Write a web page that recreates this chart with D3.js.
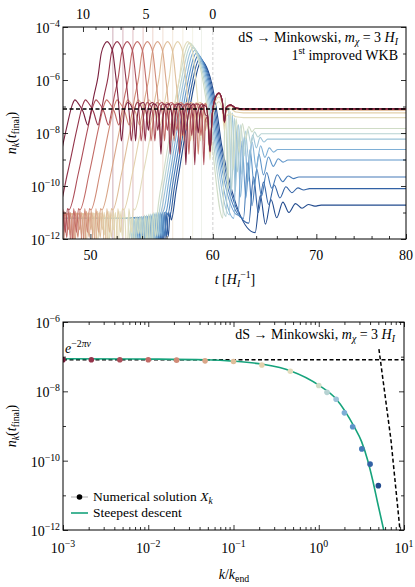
<!DOCTYPE html>
<html>
<head>
<meta charset="utf-8">
<script src="https://cdn.jsdelivr.net/npm/d3@7"></script>
<style>
body { margin: 0; background: #fff; }
text { font-family: "Liberation Serif", "DejaVu Serif", serif; fill: #000; }
</style>
</head>
<body>
<svg id="chart" width="415" height="587"></svg>
<script>
// ---------------- data ----------------
const kVals = [0.001, 0.00215, 0.00464, 0.01, 0.0215, 0.0464, 0.1, 0.215, 0.464,
               1, 1.25, 1.6, 2, 2.5, 3.2, 4, 5];
// log10 of n_k(t_final)
const nFinalLog = [-7.09, -7.09, -7.09, -7.09, -7.10, -7.12, -7.14, -7.24, -7.42,
                   -7.83, -8.03, -8.23, -8.62, -9.02, -9.66, -10.10, -10.72];
const curveColors = ["#7a1f3d", "#93334a", "#ad4d58", "#c26a66", "#d08a76", "#d9a688",
                     "#dfbe9a", "#e3d1ac", "#e2dcbc", "#cfdcc6", "#b6d2d2", "#9cc3d9",
                     "#7eafd6", "#5f95c9", "#467bb8", "#3262a5", "#224b8e"];
// time and height of the main peak of every curve
const peakT = [51.26, 52.03, 52.82, 53.62, 54.43, 55.26, 56.09, 56.94, 57.80,
               57.95, 58.1, 58.25, 58.4, 58.55, 58.7, 58.85, 59.0];
const peakLog = [-4.55, -4.55, -4.55, -4.55, -4.55, -4.55, -4.55, -4.55, -4.55,
                 -4.6, -4.68, -4.78, -4.88, -4.98, -5.08, -5.18, -5.28];
const floorLog = [-11.05, -11.05, -11.05, -11.05, -11.05, -11.05, -11.05, -11.05, -11.05,
                  -11.2, -11.2, -11.2, -11.2, -11.2, -11.2, -11.2, -11.2];
// noisy floor just before the rise: [dt before rise, offset]
const floorSpikes = [[-2.4, 0], [-2.25, -0.8], [-2.1, 0], [-1.9, -1.2], [-1.75, 0.05],
                     [-1.55, -0.6], [-1.4, 0.05], [-1.2, -1.5], [-1.05, 0.1], [-0.85, -0.9],
                     [-0.7, 0.15], [-0.5, -1.8], [-0.35, 0.2], [-0.15, -0.7], [0, 0.2]];
// rise and main peak of the small-k curves: [dt from peak, log10 n]
const redRise = [[-4.4, -10.9], [-3.7, -9.5], [-3.0, -7.8], [-2.6, -6.95], [-2.4, -6.75],
                 [-2.2, -6.85], [-1.8, -7.2], [-1.45, -7.7], [-1.3, -7.4], [-1.0, -6.6],
                 [-0.7, -5.9], [-0.45, -5.0], [-0.2, -4.65], [0, -4.55]];
// fall after the peak for the small-k curves: [dt from peak, log10 n]
const redFall = [[0.2, -4.65], [0.45, -5.0], [0.65, -5.8], [0.85, -6.7], [1.0, -7.6], [1.1, -8.3]];
const redWiggle = [[1.35, -7.15], [1.6, -6.85], [1.85, -6.95], [2.1, -7.5], [2.22, -8.3], [2.35, -7.4],
                   [2.6, -6.9], [2.85, -6.85], [3.1, -7.3], [3.25, -7.9], [3.4, -7.3], [3.65, -6.9],
                   [3.9, -6.95], [4.15, -7.6], [4.28, -8.8], [4.42, -7.5], [4.7, -6.95], [4.95, -6.9],
                   [5.2, -7.4], [5.33, -8.1], [5.47, -7.35], [5.75, -6.9], [6.0, -6.95], [6.25, -7.6],
                   [6.38, -9.2], [6.52, -7.5], [6.8, -7.0], [7.05, -6.9], [7.3, -7.3], [7.45, -8.0],
                   [7.6, -7.3], [7.9, -6.95], [8.15, -7.0], [8.4, -7.7]];
// settling at the end of inflation: [t, offset from final value]
const redSettle = [[59.55, -0.3], [59.75, -1.6], [59.95, -0.2], [60.25, 0.45], [60.55, 0.6],
                   [60.85, 0.3], [61.05, -0.5], [61.2, 0.05], [61.6, 0.15], [62.1, 0.03],
                   [62.8, 0], [80, 0]];
// rise of the large-k curves: [dt from peak, offset from peak]
const blueRise = [[-2.6, -6.0], [-2.2, -4.9], [-1.8, -3.8], [-1.4, -2.7], [-1.0, -1.7],
                  [-0.6, -0.8], [-0.3, -0.25], [0, 0]];
// fall after the peak for the large-k curves: [dt from peak, offset from peak]
const blueFall = [[0.3, -0.12], [0.6, -0.4], [0.9, -0.85], [1.2, -1.5], [1.5, -2.3], [1.8, -3.2]];
// ringing around the final value: [dt from first dip, offset in units of amplitude]
const blueRing = [[0, -1.3], [0.45, 0.45], [0.9, -0.9], [1.4, 0.25], [1.9, -0.6], [2.45, 0.14],
                  [3.0, -0.35], [3.6, 0.07], [4.2, -0.15], [4.8, 0.03], [5.4, -0.05], [6.0, 0]];
const blueFirstDip = [60.9, 61.2, 61.5, 61.9, 62.3, 62.8, 63.3, 63.9];
const blueRingScale = [0.5, 0.55, 0.6, 0.7, 0.8, 0.9, 1.0, 1.1];
const blueRingAmp = [2.6, 2.4, 2.2, 2.0, 1.6, 1.2, 1.0, 0.8];
// faint vertical markers
const markT = [51.7, 52.48, 53.27, 54.08, 54.87, 55.7, 56.52, 57.38, 58.22, 59.0];
const tEnd = 60;
// e-folds axis on top: [N, t]
const nTicks = [[0, 60], [1, 58.8], [2, 57.65], [3, 56.5], [4, 55.4], [5, 54.32],
                [6, 53.3], [7, 52.3], [8, 51.33], [9, 50.38], [10, 49.45]];
const nMajor = [0, 5, 10];
const plateauLog = -7.09;   // e^{-2 pi nu}
// steepest descent curve: k/k_end and log10 n
const sdK = [0.001, 0.0105, 0.047, 0.1, 0.22, 0.47, 1.0, 1.6, 2.6, 3.18, 3.74, 4.28, 4.91, 5.78];
const sdLog = [-7.06, -7.07, -7.09, -7.13, -7.22, -7.41, -7.82, -8.22, -9.02, -9.45, -9.98, -10.55, -11.22, -12.0];
// dashed cut-off curve
const cutK = [5.08, 7.03, 8.97];
const cutLog = [-6.78, -9.4, -12.0];

const topTicksMajor = [50, 60, 70, 80];
const topTicksMinor = [52, 54, 56, 58, 62, 64, 66, 68, 72, 74, 76, 78];

// ---------------- layout ----------------
const svg = d3.select("#chart");
const tb = {l: 63, r: 406, t: 27, b: 239};
const bb = {l: 63, r: 404, t: 322, b: 530};

const xT = d3.scaleLog().domain([48, 80]).range([tb.l, tb.r]);
const yT = d3.scaleLog().domain([1e-12, 1e-4]).range([tb.b, tb.t]);
const xB = d3.scaleLog().domain([1e-3, 10]).range([bb.l, bb.r]);
const yB = d3.scaleLog().domain([1e-12, 1e-6]).range([bb.b, bb.t]);

function rich(g, x, y, parts, fs, anchor) {
  const t = g.append("text").attr("x", x).attr("y", y)
    .attr("text-anchor", anchor || "start").style("font-size", fs + "px");
  let cur = 0;
  parts.forEach(p => {
    const shift = p.sub ? fs * 0.22 : p.sup ? -fs * 0.42 : 0;
    const ts = t.append("tspan").attr("dy", shift - cur).text(p.t);
    if (p.dx) ts.attr("dx", p.dx);
    cur = shift;
    if (p.sub || p.sup) ts.style("font-size", (fs * 0.7) + "px");
    if (p.i) ts.style("font-style", "italic");
  });
  return t;
}
function powLabel(g, x, y, e, anchor) {
  return rich(g, x, y, [{t: "10"}, {t: (e < 0 ? "\u2212" : "") + Math.abs(e), sup: 1}], 14, anchor);
}
function inward(g, axisFn, scale, values, size) {
  g.call(axisFn(scale).tickValues(values).tickSizeInner(-size).tickSizeOuter(0).tickFormat(""));
  g.select(".domain").remove();
  g.selectAll(".tick line").attr("stroke", "#000").attr("stroke-width", 0.8);
}

// ---------------- top panel ----------------
const gt = svg.append("g");
svg.append("clipPath").attr("id", "clipT").append("rect")
  .attr("x", tb.l).attr("y", tb.t).attr("width", tb.r - tb.l).attr("height", tb.b - tb.t);
const plotT = gt.append("g").attr("clip-path", "url(#clipT)");

plotT.selectAll(".mark").data(markT).enter().append("line")
  .attr("x1", d => xT(d)).attr("x2", d => xT(d)).attr("y1", tb.t).attr("y2", tb.b)
  .attr("stroke", (d, i) => curveColors[i]).attr("stroke-width", 0.9).attr("opacity", 0.4);
plotT.append("line").attr("x1", xT(tEnd)).attr("x2", xT(tEnd)).attr("y1", tb.t).attr("y2", tb.b)
  .attr("stroke", "#bbb").attr("stroke-width", 0.7).attr("stroke-dasharray", "3,2");

function curvePoints(i) {
  const tp = peakT[i], pl = peakLog[i], fin = nFinalLog[i], fl = floorLog[i];
  const pts = [[46, fl]];
  if (i < 9) {
    const rise0 = tp + redRise[0][0];
    floorSpikes.forEach(([dt, d]) => pts.push([rise0 - 0.1 + dt, fl + d]));
    redRise.forEach(([dt, v]) => pts.push([tp + dt, v]));
    redFall.forEach(([dt, v]) => pts.push([tp + dt, v]));
    redWiggle.forEach(([dt, v]) => { if (tp + dt < 59.45) pts.push([tp + dt, v]); });
    redSettle.forEach(([t, o]) => pts.push([t, fin + o]));
  } else {
    const j = i - 9;
    const rise0 = tp + blueRise[0][0];
    floorSpikes.forEach(([dt, d]) => pts.push([rise0 - 0.1 + dt, fl + d]));
    blueRise.forEach(([dt, o]) => pts.push([tp + dt, pl + o]));
    blueFall.forEach(([dt, o]) => pts.push([tp + dt, pl + o]));
    blueRing.forEach(([dt, a]) => pts.push([blueFirstDip[j] + dt * blueRingScale[j], fin + a * blueRingAmp[j]]));
    pts.push([80, fin]);
  }
  pts.sort((a, b) => a[0] - b[0]);
  return pts.filter((p, k) => k === 0 || p[0] > pts[k - 1][0] + 1e-6);
}

const lineT = d3.line()
  .x(d => xT(d[0])).y(d => yT(Math.pow(10, d[1])))
  .curve(d3.curveMonotoneX);

const order = d3.range(kVals.length).reverse();
plotT.selectAll(".curve").data(order).enter().append("path")
  .attr("d", i => lineT(curvePoints(i)))
  .attr("fill", "none").attr("stroke", i => curveColors[i]).attr("stroke-width", 1.1);

plotT.append("line").attr("x1", tb.l).attr("x2", tb.r)
  .attr("y1", yT(Math.pow(10, plateauLog))).attr("y2", yT(Math.pow(10, plateauLog)))
  .attr("stroke", "#000").attr("stroke-width", 1.5).attr("stroke-dasharray", "4,2.5");

// axes of top panel
inward(gt.append("g").attr("transform", `translate(0,${tb.b})`), d3.axisBottom, xT, topTicksMajor, 5);
inward(gt.append("g").attr("transform", `translate(0,${tb.b})`), d3.axisBottom, xT, topTicksMinor, 3);
const decT = d3.range(-12, -3).map(e => Math.pow(10, e));
const decTMajor = decT.filter((d, i) => i % 2 === 0);
const decTMinor = decT.filter((d, i) => i % 2 === 1);
inward(gt.append("g").attr("transform", `translate(${tb.l},0)`), d3.axisLeft, yT, decTMajor, 5);
inward(gt.append("g").attr("transform", `translate(${tb.l},0)`), d3.axisLeft, yT, decTMinor, 3);
inward(gt.append("g").attr("transform", `translate(${tb.r},0)`), d3.axisRight, yT, decTMajor, 5);
inward(gt.append("g").attr("transform", `translate(${tb.r},0)`), d3.axisRight, yT, decTMinor, 3);
inward(gt.append("g").attr("transform", `translate(0,${tb.t})`), d3.axisTop, xT,
  nTicks.filter(d => nMajor.includes(d[0])).map(d => d[1]), 5);
inward(gt.append("g").attr("transform", `translate(0,${tb.t})`), d3.axisTop, xT,
  nTicks.filter(d => !nMajor.includes(d[0])).map(d => d[1]), 3);

gt.append("rect").attr("x", tb.l).attr("y", tb.t).attr("width", tb.r - tb.l).attr("height", tb.b - tb.t)
  .attr("fill", "none").attr("stroke", "#000").attr("stroke-width", 1);

topTicksMajor.forEach(v => gt.append("text").attr("x", xT(v)).attr("y", 260)
  .attr("text-anchor", "middle").style("font-size", "14px").text(v));
nTicks.filter(d => nMajor.includes(d[0])).forEach(d => gt.append("text").attr("x", xT(d[1])).attr("y", 19)
  .attr("text-anchor", "middle").style("font-size", "14px").text(d[0]));
decTMajor.forEach(v => powLabel(gt, 60, yT(v) + 6, Math.round(Math.log10(v)), "end"));

rich(gt, 398, 42, [{t: "dS \u2192 Minkowski, "}, {t: "m", i: 1}, {t: "\u03c7", i: 1, sub: 1},
  {t: " = 3 "}, {t: "H", i: 1}, {t: "I", i: 1, sub: 1}], 14, "end");
rich(gt, 398, 60, [{t: "1"}, {t: "st", sup: 1}, {t: " improved WKB"}], 14, "end");

rich(gt, 235, 284, [{t: "t", i: 1}, {t: " ["}, {t: "H", i: 1}, {t: "I", i: 1, sub: 1},
  {t: "\u22121", sup: 1}, {t: "]"}], 14, "middle");
rich(gt.append("g").attr("transform", "translate(16,133) rotate(-90)"), 0, 0,
  [{t: "n", i: 1}, {t: "k", i: 1, sub: 1}, {t: "("}, {t: "t", i: 1}, {t: "final", sub: 1}, {t: ")"}], 14, "middle");

// ---------------- bottom panel ----------------
const gb = svg.append("g");
svg.append("clipPath").attr("id", "clipB").append("rect")
  .attr("x", bb.l).attr("y", bb.t).attr("width", bb.r - bb.l).attr("height", bb.b - bb.t);
const plotB = gb.append("g").attr("clip-path", "url(#clipB)");

const lineB = d3.line().x(d => xB(d[0])).y(d => yB(Math.pow(10, d[1])));
plotB.append("line").attr("x1", bb.l).attr("x2", bb.r)
  .attr("y1", yB(Math.pow(10, plateauLog))).attr("y2", yB(Math.pow(10, plateauLog)))
  .attr("stroke", "#000").attr("stroke-width", 1.5).attr("stroke-dasharray", "4,2.5");
plotB.append("path").attr("d", lineB(cutK.map((k, i) => [k, cutLog[i]])))
  .attr("fill", "none").attr("stroke", "#000").attr("stroke-width", 1.5).attr("stroke-dasharray", "4,2.5");
plotB.append("path").attr("d", lineB.curve(d3.curveMonotoneX)(sdK.map((k, i) => [k, sdLog[i]])))
  .attr("fill", "none").attr("stroke", "#16a37c").attr("stroke-width", 1.6);
plotB.selectAll(".dot").data(kVals).enter().append("circle")
  .attr("cx", d => xB(d)).attr("cy", (d, i) => yB(Math.pow(10, nFinalLog[i])))
  .attr("r", 2.8).attr("fill", (d, i) => curveColors[i]);

const minorK = [];
d3.range(-3, 1).forEach(e => d3.range(2, 10).forEach(m => minorK.push(m * Math.pow(10, e))));
const majorK = d3.range(-3, 2).map(e => Math.pow(10, e));
inward(gb.append("g").attr("transform", `translate(0,${bb.b})`), d3.axisBottom, xB, majorK, 5);
inward(gb.append("g").attr("transform", `translate(0,${bb.b})`), d3.axisBottom, xB, minorK, 3);
inward(gb.append("g").attr("transform", `translate(0,${bb.t})`), d3.axisTop, xB, majorK, 5);
inward(gb.append("g").attr("transform", `translate(0,${bb.t})`), d3.axisTop, xB, minorK, 3);
const decB = d3.range(-12, -5).map(e => Math.pow(10, e));
const decBMajor = decB.filter((d, i) => i % 2 === 0);
const decBMinor = decB.filter((d, i) => i % 2 === 1);
inward(gb.append("g").attr("transform", `translate(${bb.l},0)`), d3.axisLeft, yB, decBMajor, 5);
inward(gb.append("g").attr("transform", `translate(${bb.l},0)`), d3.axisLeft, yB, decBMinor, 3);
inward(gb.append("g").attr("transform", `translate(${bb.r},0)`), d3.axisRight, yB, decBMajor, 5);
inward(gb.append("g").attr("transform", `translate(${bb.r},0)`), d3.axisRight, yB, decBMinor, 3);

gb.append("rect").attr("x", bb.l).attr("y", bb.t).attr("width", bb.r - bb.l).attr("height", bb.b - bb.t)
  .attr("fill", "none").attr("stroke", "#000").attr("stroke-width", 1);

majorK.forEach(v => powLabel(gb, xB(v), 553, Math.round(Math.log10(v)), "middle"));
decBMajor.forEach(v => powLabel(gb, 60, yB(v) + 6, Math.round(Math.log10(v)), "end"));

rich(gb, 395, 339, [{t: "dS \u2192 Minkowski, "}, {t: "m", i: 1}, {t: "\u03c7", i: 1, sub: 1},
  {t: " = 3 "}, {t: "H", i: 1}, {t: "I", i: 1, sub: 1}], 14, "end");
rich(gb, 65, 353, [{t: "e", i: 1}, {t: "\u22122", sup: 1}, {t: "\u03c0\u03bd", i: 1, sup: 1}], 14, "start");

// legend
const lg = gb.append("g");
lg.append("line").attr("x1", 71).attr("x2", 88).attr("y1", 497).attr("y2", 497)
  .attr("stroke", "#999").attr("stroke-width", 0.8);
lg.append("circle").attr("cx", 79.5).attr("cy", 497).attr("r", 2.8).attr("fill", "#000");
rich(lg, 93, 501, [{t: "Numerical solution "}, {t: "X", i: 1}, {t: "k", i: 1, sub: 1}], 13.5, "start");
lg.append("line").attr("x1", 71).attr("x2", 88).attr("y1", 513).attr("y2", 513)
  .attr("stroke", "#16a37c").attr("stroke-width", 1.6);
rich(lg, 93, 517, [{t: "Steepest descent"}], 13.5, "start");

rich(gb, 234, 579, [{t: "k", i: 1}, {t: "/"}, {t: "k", i: 1}, {t: "end", sub: 1}], 14, "middle");
rich(gb.append("g").attr("transform", "translate(16,426) rotate(-90)"), 0, 0,
  [{t: "n", i: 1}, {t: "k", i: 1, sub: 1}, {t: "("}, {t: "t", i: 1}, {t: "final", sub: 1}, {t: ")"}], 14, "middle");
</script>
</body>
</html>
